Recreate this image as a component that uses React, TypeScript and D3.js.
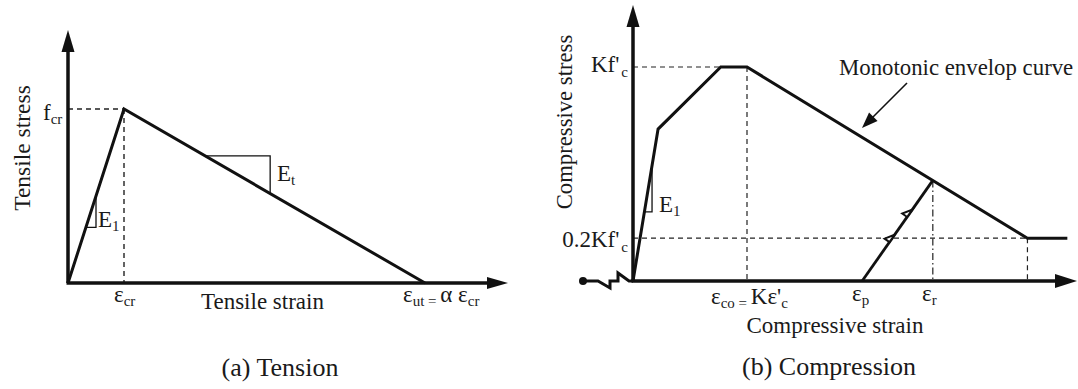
import React from "react";
import * as d3 from "d3";

// Tension branch (strain in units of ε_cr, stress in units of f_cr)
const tensionStrain = [0, 1, 6.375];
const tensionStress = [0, 1, 0];

// Compression envelope (strain in units of ε_co, stress in units of Kf'c)
const compStrain = [0, 0.22, 0.77, 1, 3.46, 3.81];
const compStress = [0, 0.71, 1, 1, 0.2, 0.2];

// Unloading / reloading branch between ε_p and ε_r
const reloadStrain = [2.01, 2.63];
const reloadStress = [0, 0.47];

const residualStress = 0.2;

const FONT = "'Liberation Serif', 'Times New Roman', serif";
const LBL = 23;
const SUB = 15;

type Pt = [number, number];

const zip = (xs: number[], ys: number[]): Pt[] => xs.map((x, i) => [x, ys[i]]);

function interp(pts: Pt[], x: number): number {
  for (let i = 0; i < pts.length - 1; i++) {
    const [x0, y0] = pts[i];
    const [x1, y1] = pts[i + 1];
    if (x >= x0 && x <= x1) return y0 + ((x - x0) / (x1 - x0)) * (y1 - y0);
  }
  return pts[pts.length - 1][1];
}

function Arrow({ tip, dir, len, half }: { tip: Pt; dir: Pt; len: number; half: number }) {
  const [dx, dy] = dir;
  const n = Math.hypot(dx, dy);
  const ux = dx / n, uy = dy / n;
  const bx = tip[0] - ux * len, by = tip[1] - uy * len;
  const px = -uy, py = ux;
  const pts = [tip, [bx + px * half, by + py * half], [bx - px * half, by - py * half]];
  return <polygon points={pts.map((p) => p.join(",")).join(" ")} fill="#111" />;
}

export default function App() {
  // ---- Panel (a): tension ----
  const xT = d3.scaleLinear().domain([0, 1]).range([68, 124]);
  const yT = d3.scaleLinear().domain([0, 1]).range([283, 109]);
  const tPts = zip(tensionStrain, tensionStress);
  const lineT = d3.line<Pt>().x((d) => xT(d[0])).y((d) => yT(d[1]));

  // slope indicators on the tension curve
  const e1a = [0.32, 0.5];
  const eta = [2.45, 3.61];

  // ---- Panel (b): compression ----
  const xC = d3.scaleLinear().domain([0, 1]).range([633, 747]);
  const yC = d3.scaleLinear().domain([0, 1]).range([281, 67]);
  const cPts = zip(compStrain, compStress);
  const rPts = zip(reloadStrain, reloadStress);
  const lineC = d3.line<Pt>().x((d) => xC(d[0])).y((d) => yC(d[1]));
  const e1c = [0.1, 0.167];

  const peakStart = compStrain[2];
  const peakEnd = compStrain[3];
  const resStart = compStrain[4];
  const epsR = reloadStrain[1];

  // small direction marks along the reloading branch
  const rx0 = xC(rPts[0][0]), ry0 = yC(rPts[0][1]);
  const rx1 = xC(rPts[1][0]), ry1 = yC(rPts[1][1]);
  const rdx = rx1 - rx0, rdy = ry1 - ry0;
  const rn = Math.hypot(rdx, rdy);
  const ru: Pt = [rdx / rn, rdy / rn];
  const marks = [0.46, 0.71].map((t) => {
    const tx = rx0 + rdx * t, ty = ry0 + rdy * t;
    const bx = tx - ru[0] * 9, by = ty - ru[1] * 9;
    // offset to the upper-left side of the line
    const px = ru[1], py = -ru[0];
    return `${tx},${ty} ${bx},${by} ${bx + px * 6},${by + py * 6}`;
  });

  const dash = "5,4";

  return (
    <svg
      width={1078}
      height={389}
      style={{ position: "absolute", left: 0, top: 0, background: "#fff" }}
      fontFamily={FONT}
      fill="#1a1a1a"
    >
      {/* ===== (a) Tension ===== */}
      <g>
        {/* guides */}
        <line x1={xT(0)} x2={xT(1)} y1={yT(1)} y2={yT(1)} stroke="#222" strokeWidth={1.4} strokeDasharray={dash} />
        <line x1={xT(1)} x2={xT(1)} y1={yT(1)} y2={yT(0)} stroke="#222" strokeWidth={1.4} strokeDasharray={dash} />

        {/* axes */}
        <line x1={68} x2={68} y1={283} y2={48} stroke="#111" strokeWidth={3.5} />
        <Arrow tip={[68, 30]} dir={[0, -1]} len={22} half={6.5} />
        <line x1={66.5} x2={490} y1={283} y2={283} stroke="#111" strokeWidth={3.5} />
        <Arrow tip={[508, 283]} dir={[1, 0]} len={21} half={6} />

        {/* curve */}
        <path d={lineT(tPts) ?? ""} fill="none" stroke="#111" strokeWidth={3} strokeLinejoin="miter" />

        {/* slope triangles */}
        <polyline
          points={`${xT(e1a[0])},${yT(interp(tPts, e1a[0]))} ${xT(e1a[1])},${yT(interp(tPts, e1a[0]))} ${xT(e1a[1])},${yT(interp(tPts, e1a[1]))}`}
          fill="none" stroke="#111" strokeWidth={1.3}
        />
        <polyline
          points={`${xT(eta[0])},${yT(interp(tPts, eta[0]))} ${xT(eta[1])},${yT(interp(tPts, eta[0]))} ${xT(eta[1])},${yT(interp(tPts, eta[1]))}`}
          fill="none" stroke="#111" strokeWidth={1.3}
        />

        {/* labels */}
        <text x={43} y={120} fontSize={LBL}>
          f<tspan fontSize={SUB} dy={4}>cr</tspan>
        </text>
        <text x={98} y={227} fontSize={LBL}>
          E<tspan fontSize={SUB} dy={4}>1</tspan>
        </text>
        <text x={277} y={181} fontSize={LBL}>
          E<tspan fontSize={SUB} dy={4}>t</tspan>
        </text>
        <text x={114} y={302} fontSize={LBL}>
          ε<tspan fontSize={SUB} dy={4}>cr</tspan>
        </text>
        <text x={201} y={309} fontSize={23}>Tensile strain</text>
        <text x={403} y={302} fontSize={LBL}>
          ε<tspan fontSize={SUB} dy={4}>ut = </tspan>
          <tspan dy={-4}>α ε</tspan>
          <tspan fontSize={SUB} dy={4}>cr</tspan>
        </text>
        <text transform="translate(30,148) rotate(-90)" textAnchor="middle" fontSize={23.5}>Tensile stress</text>
        <text x={280} y={376} textAnchor="middle" fontSize={26}>(a) Tension</text>
      </g>

      {/* ===== (b) Compression ===== */}
      <g>
        {/* guides */}
        <line x1={xC(0)} x2={xC(peakStart)} y1={yC(1)} y2={yC(1)} stroke="#222" strokeWidth={1.2} strokeDasharray={dash} />
        <line x1={xC(peakEnd)} x2={xC(peakEnd)} y1={yC(1)} y2={yC(0)} stroke="#222" strokeWidth={1.2} strokeDasharray={dash} />
        <line x1={xC(0)} x2={xC(resStart)} y1={yC(residualStress)} y2={yC(residualStress)} stroke="#222" strokeWidth={1.2} strokeDasharray={dash} />
        <line x1={xC(resStart)} x2={xC(resStart)} y1={yC(residualStress)} y2={yC(0)} stroke="#222" strokeWidth={1.2} strokeDasharray={dash} />
        <line x1={xC(epsR)} x2={xC(epsR)} y1={yC(interp(cPts, epsR))} y2={yC(0)} stroke="#222" strokeWidth={1.2} strokeDasharray="7,3,1.5,3" />

        {/* axes */}
        <line x1={633} x2={633} y1={281} y2={24} stroke="#111" strokeWidth={3.5} />
        <Arrow tip={[633, 5]} dir={[0, -1]} len={22} half={6.5} />
        <line x1={631.5} x2={1058} y1={281} y2={281} stroke="#111" strokeWidth={3.5} />
        <Arrow tip={[1077, 281]} dir={[1, 0]} len={22} half={7} />

        {/* break symbol on the negative strain side */}
        <circle cx={583} cy={281} r={4} fill="#111" />
        <polyline
          points="583,281 598,281 610,288 610,281 618,281 618,273 629,281 633,281"
          fill="none" stroke="#111" strokeWidth={3} strokeLinejoin="miter"
        />

        {/* envelope and reloading branch */}
        <path d={lineC(cPts) ?? ""} fill="none" stroke="#111" strokeWidth={3} strokeLinejoin="miter" />
        <path d={lineC(rPts) ?? ""} fill="none" stroke="#111" strokeWidth={2.8} />
        {marks.map((m, i) => (
          <polygon key={i} points={m} fill="#fff" stroke="#111" strokeWidth={2} strokeLinejoin="miter" />
        ))}

        {/* slope triangle */}
        <polyline
          points={`${xC(e1c[0])},${yC(interp(cPts, e1c[0]))} ${xC(e1c[1])},${yC(interp(cPts, e1c[0]))} ${xC(e1c[1])},${yC(interp(cPts, e1c[1]))}`}
          fill="none" stroke="#111" strokeWidth={1.3}
        />

        {/* annotation arrow */}
        <line x1={907} y1={83} x2={870} y2={120} stroke="#111" strokeWidth={1.6} />
        <Arrow tip={[862, 128]} dir={[-1, 1]} len={16} half={6} />

        {/* labels */}
        <text x={628} y={72} textAnchor="end" fontSize={LBL}>
          Kf'<tspan fontSize={SUB} dx={2} dy={5}>c</tspan>
        </text>
        <text x={628} y={247} textAnchor="end" fontSize={LBL}>
          0.2Kf'<tspan fontSize={SUB} dx={2} dy={5}>c</tspan>
        </text>
        <text x={659} y={212} fontSize={LBL}>
          E<tspan fontSize={SUB} dy={4}>1</tspan>
        </text>
        <text x={711} y={304} fontSize={LBL}>
          ε<tspan fontSize={SUB} dy={4}>co = </tspan>
          <tspan dy={-4}>Kε'</tspan>
          <tspan fontSize={SUB} dy={4}>c</tspan>
        </text>
        <text x={852} y={301} fontSize={LBL}>
          ε<tspan fontSize={SUB} dy={4}>p</tspan>
        </text>
        <text x={922} y={301} fontSize={LBL}>
          ε<tspan fontSize={SUB} dy={4}>r</tspan>
        </text>
        <text x={839} y={75} fontSize={22.8}>Monotonic envelop curve</text>
        <text x={835} y={333} textAnchor="middle" fontSize={23}>Compressive strain</text>
        <text transform="translate(572,122) rotate(-90)" textAnchor="middle" fontSize={22.7}>Compressive stress</text>
        <text x={829} y={375} textAnchor="middle" fontSize={26}>(b) Compression</text>
      </g>
    </svg>
  );
}
